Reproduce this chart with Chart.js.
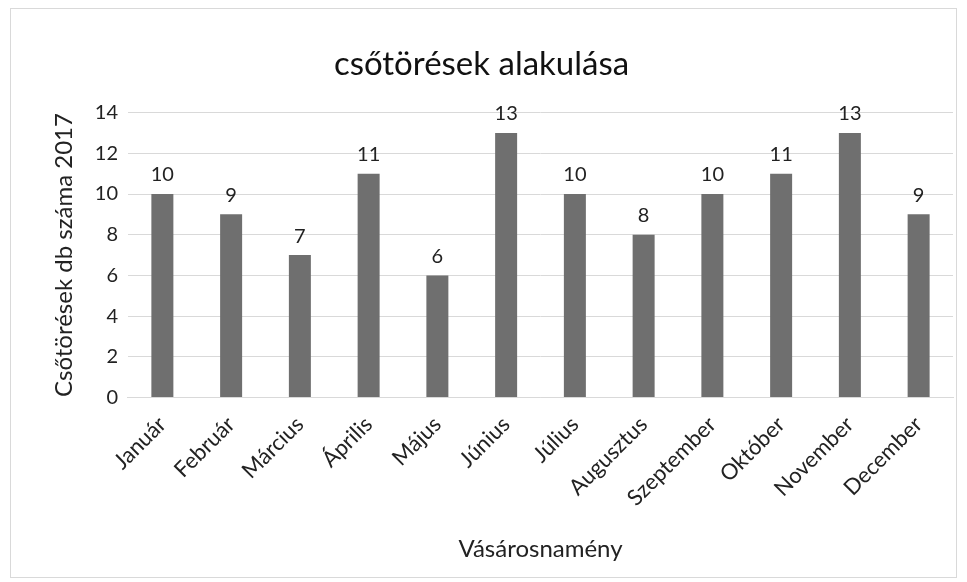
<!DOCTYPE html>
<html>
<head>
<meta charset="utf-8">
<script src="https://cdn.jsdelivr.net/npm/chart.js@4/dist/chart.umd.min.js"></script>
<style>
  html, body { margin: 0; padding: 0; background: #fff; }
  #wrap { position: relative; width: 967px; height: 582px; }
  #frame { position: absolute; left: 10px; top: 8px; width: 947px; height: 570px; border: 1px solid #d9d9d9; box-sizing: border-box; pointer-events: none; }
</style>
</head>
<body>
<div id="wrap">
  <canvas id="myChart" width="967" height="582"></canvas>
  <div id="frame"></div>
</div>
<script>
const months = ['Január', 'Február', 'Március', 'Április', 'Május', 'Június', 'Július', 'Augusztus', 'Szeptember', 'Október', 'November', 'December']
const breaks = [10, 9, 7, 11, 6, 13, 10, 8, 10, 11, 13, 9]
const yTicks = [0, 2, 4, 6, 8, 10, 12, 14]

const FONT = 'Lato, "Open Sans", sans-serif'

// value labels above the bars
const barLabels = {
  id: 'barLabels',
  afterDatasetsDraw (chart) {
    const c = chart.ctx
    const meta = chart.getDatasetMeta(0)
    c.save()
    c.font = '20px ' + FONT
    c.fillStyle = '#222'
    c.textAlign = 'center'
    c.textBaseline = 'bottom'
    meta.data.forEach((bar, i) => {
      c.fillText(String(breaks[i]), bar.x, bar.y - 9)
    })
    c.restore()
  }
}

const ctx = document.getElementById('myChart')
new Chart(ctx, {
  type: 'bar',
  data: {
    labels: months,
    datasets: [{
      label: 'Csőtörések',
      data: breaks,
      backgroundColor: '#6f6f6f',
      barPercentage: 0.64,
      categoryPercentage: 0.5
    }]
  },
  options: {
    responsive: false,
    animation: false,
    layout: { padding: { left: 10, right: 14, top: 10, bottom: 14 } },
    plugins: {
      legend: { display: false },
      tooltip: { enabled: false },
      title: {
        display: true,
        text: 'csőtörések alakulása',
        color: '#111',
        font: { family: FONT, size: 33, weight: 'normal' },
        padding: { top: 35, bottom: 28 }
      }
    },
    scales: {
      y: {
        min: 0,
        max: 14,
        afterBuildTicks: (axis) => { axis.ticks = yTicks.map(v => ({ value: v })) },
        ticks: { color: '#222', font: { family: FONT, size: 20 }, padding: 10 },
        grid: { color: '#d9d9d9', drawTicks: false },
        border: { display: false },
        title: {
          display: true,
          text: 'Csőtörések db száma 2017',
          color: '#222',
          font: { family: FONT, size: 24 },
          padding: { top: 40, bottom: 6 }
        }
      },
      x: {
        ticks: { color: '#222', font: { family: FONT, size: 22 }, maxRotation: 45, minRotation: 45, padding: 6 },
        grid: { display: false },
        border: { color: '#d9d9d9' },
        title: {
          display: true,
          text: 'Vásárosnamény',
          color: '#222',
          font: { family: FONT, size: 24 },
          padding: { top: 18 }
        }
      }
    }
  },
  plugins: [barLabels]
})
</script>
</body>
</html>
